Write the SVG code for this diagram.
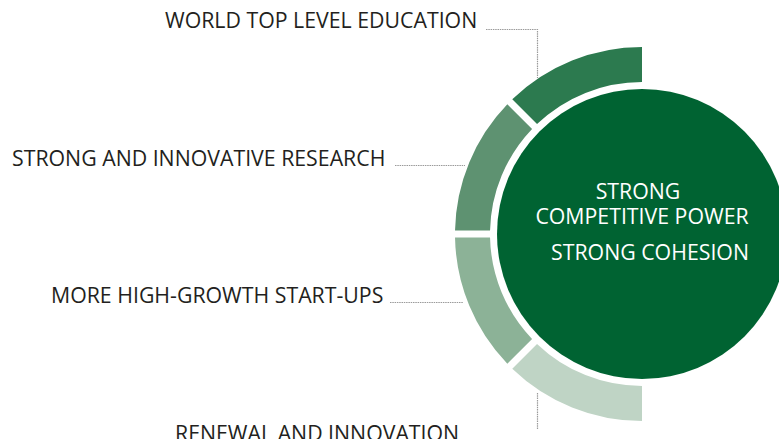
<svg xmlns="http://www.w3.org/2000/svg" width="779" height="439" viewBox="0 0 779 439">
<style>
.lbl{font-family:"Open Sans","Liberation Sans",sans-serif;font-size:21.3px;fill:#231f20}
.ctr{font-family:"Open Sans","Liberation Sans",sans-serif;font-size:21.3px;fill:#ffffff;text-anchor:middle}
.lead{fill:none;stroke:#9a9a9a;stroke-width:1.2;stroke-dasharray:1.5 0.8}
</style>
<rect width="779" height="439" fill="#ffffff"/>
<g id="core">
<circle cx="642" cy="234" r="145" fill="#006332"/>
<text class="ctr" x="638" y="199">STRONG</text>
<text class="ctr" x="642" y="224">COMPETITIVE POWER</text>
<text class="ctr" x="650" y="260">STRONG COHESION</text>
</g>
<g id="education">
<path d="M642,47 A187,187 0 0 0 512.27,99.32 L537.03,124.08 A152,152 0 0 1 642,82 Z" fill="#2c7a4f"/>
<text class="lbl" x="165" y="28">WORLD TOP LEVEL EDUCATION</text>
</g>
<g id="research">
<path d="M507.32,104.27 A187,187 0 0 0 455.03,230.5 L490.04,230.5 A152,152 0 0 1 532.08,129.03 Z" fill="#5e9271"/>
<text class="lbl" x="12" y="166">STRONG AND INNOVATIVE RESEARCH</text>
</g>
<g id="startups">
<path d="M455.03,237.5 A187,187 0 0 0 507.32,363.73 L532.08,338.98 A152,152 0 0 1 490.04,237.5 Z" fill="#8cb297"/>
<text class="lbl" x="51" y="303">MORE HIGH-GROWTH START-UPS</text>
</g>
<g id="renewal">
<path d="M512.27,368.68 A187,187 0 0 0 642,421 L642,386 A152,152 0 0 1 537.03,343.93 Z" fill="#bfd4c5"/>
<text class="lbl" x="175" y="441">RENEWAL AND INNOVATION</text>
</g>
<g id="connectors">
<path class="lead" d="M486,29.5 H537.5 V78"/>
<path class="lead" d="M395,165.5 H465"/>
<path class="lead" d="M390,302.5 H463"/>
<path class="lead" d="M537.5,393 V429"/>
</g>
</svg>
